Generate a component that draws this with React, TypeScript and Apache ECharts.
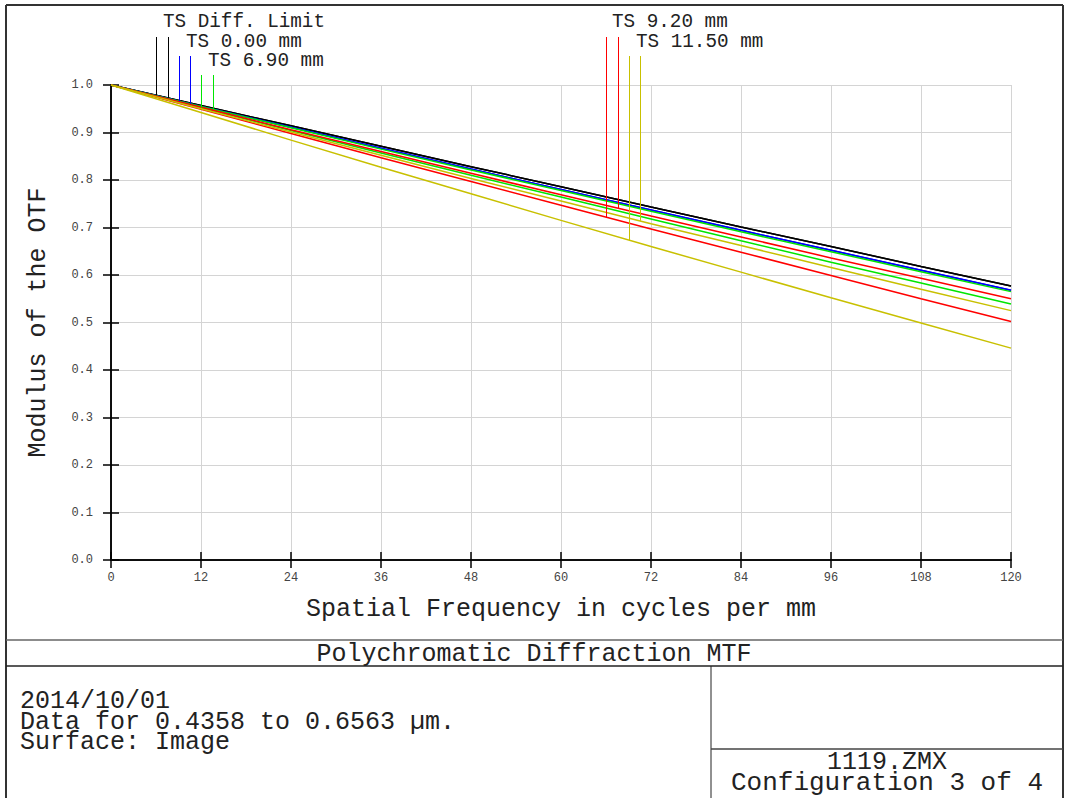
import React, { useEffect, useRef } from "react";
import * as echarts from "echarts";

// Spatial frequency samples (cycles per mm)
const freq = [0, 12, 24, 36, 48, 60, 72, 84, 96, 108, 120];
const xTicks = [0, 12, 24, 36, 48, 60, 72, 84, 96, 108, 120];
const yTicks = [0, 0.1, 0.2, 0.3, 0.4, 0.5, 0.6, 0.7, 0.8, 0.9, 1.0];

// MTF values
const diffLimitT = [1.0, 0.957, 0.914, 0.871, 0.828, 0.786, 0.743, 0.701, 0.66, 0.618, 0.577];
const diffLimitS = [1.0, 0.957, 0.914, 0.871, 0.828, 0.786, 0.743, 0.701, 0.66, 0.618, 0.577];
const field000T = [1.0, 0.955, 0.911, 0.867, 0.823, 0.78, 0.737, 0.694, 0.652, 0.61, 0.568];
const field000S = [1.0, 0.955, 0.911, 0.867, 0.823, 0.78, 0.737, 0.694, 0.652, 0.61, 0.568];
const field690T = [1.0, 0.952, 0.904, 0.857, 0.81, 0.764, 0.718, 0.672, 0.627, 0.583, 0.539];
const field690S = [1.0, 0.955, 0.91, 0.865, 0.821, 0.778, 0.734, 0.691, 0.649, 0.607, 0.565];
const field920T = [1.0, 0.949, 0.898, 0.847, 0.797, 0.747, 0.697, 0.648, 0.599, 0.55, 0.502];
const field920S = [1.0, 0.953, 0.906, 0.86, 0.814, 0.769, 0.724, 0.68, 0.636, 0.593, 0.55];
const field1150T = [1.0, 0.942, 0.884, 0.827, 0.771, 0.715, 0.66, 0.606, 0.552, 0.499, 0.446];
const field1150S = [1.0, 0.95, 0.901, 0.852, 0.803, 0.756, 0.708, 0.662, 0.616, 0.57, 0.525];

const legendLabels = ["TS Diff. Limit", "TS 0.00 mm", "TS 6.90 mm", "TS 9.20 mm", "TS 11.50 mm"];
// frequencies where the legend marker lines meet the curves
const markerFreqs = [6.0, 7.6, 9.1, 10.5, 12.0, 13.6, 66.0, 67.6, 69.1, 70.5];

const infoLines = ["2014/10/01", "Data for 0.4358 to 0.6563 µm.", "Surface: Image"];
const fileLines = ["1119.ZMX", "Configuration 3 of 4"];
const plotTitle = "Polychromatic Diffraction MTF";

const BLACK = "#000000";
const BLUE = "#0000ff";
const GREEN = "#00e600";
const RED = "#ff0000";
const YELLOW = "#c8c000";

const FONT = "'Liberation Mono', 'Courier New', 'DejaVu Sans Mono', monospace";
const TEXT = "#222";

const seriesDefs = [
  { name: "Diff. Limit T", data: diffLimitT, color: BLACK },
  { name: "Diff. Limit S", data: diffLimitS, color: BLACK },
  { name: "0.00 mm T", data: field000T, color: BLUE },
  { name: "0.00 mm S", data: field000S, color: BLUE },
  { name: "6.90 mm T", data: field690T, color: GREEN },
  { name: "6.90 mm S", data: field690S, color: GREEN },
  { name: "9.20 mm T", data: field920T, color: RED },
  { name: "9.20 mm S", data: field920S, color: RED },
  { name: "11.50 mm T", data: field1150T, color: YELLOW },
  { name: "11.50 mm S", data: field1150S, color: YELLOW },
];

// legend label rows (layout)
const labelLayout = [
  { x: 163, y: 22, top: 37 },
  { x: 186, y: 42, top: 56 },
  { x: 208, y: 61, top: 75 },
  { x: 612, y: 22, top: 37 },
  { x: 636, y: 42, top: 56 },
];

function interp(arr: number[], f: number) {
  let i = 0;
  while (i < freq.length - 2 && f > freq[i + 1]) i++;
  const t = (f - freq[i]) / (freq[i + 1] - freq[i]);
  return arr[i] + (arr[i + 1] - arr[i]) * t;
}

export default function App() {
  const ref = useRef<HTMLDivElement>(null);
  useEffect(() => {
    if (!ref.current) return;
    const chart = echarts.init(ref.current, null, { renderer: "svg" });
    const axisLineStyle = { color: "#000", width: 1.5 };
    const tickStyle = { show: true, inside: true, length: 8, lineStyle: { color: "#000", width: 1.5 } };
    const option: any = {
      animation: false,
      backgroundColor: "#ffffff",
      grid: { left: 111, top: 85, right: 54, bottom: 238, containLabel: false },
      xAxis: [
        {
          type: "value",
          min: 0,
          max: 120,
          interval: 12,
          position: "bottom",
          axisLine: { show: true, lineStyle: axisLineStyle },
          axisTick: tickStyle,
          splitLine: { show: true, lineStyle: { color: "#d4d4d4", width: 1 } },
          axisLabel: {
            show: true,
            margin: 12,
            fontFamily: FONT,
            fontSize: 12,
            color: "#444",
            formatter: (v: number) => (xTicks.includes(v) ? String(v) : ""),
          },
          name: "Spatial Frequency in cycles per mm",
          nameLocation: "middle",
          nameGap: 37,
          nameTextStyle: { fontFamily: FONT, fontSize: 25, color: TEXT },
        },
        {
          type: "value",
          min: 0,
          max: 120,
          interval: 12,
          position: "top",
          axisLine: { show: true, lineStyle: axisLineStyle },
          axisTick: tickStyle,
          splitLine: { show: false },
          axisLabel: { show: false },
        },
      ],
      yAxis: [
        {
          type: "value",
          min: 0,
          max: 1,
          interval: 0.1,
          position: "left",
          axisLine: { show: true, lineStyle: axisLineStyle },
          axisTick: tickStyle,
          splitLine: { show: true, lineStyle: { color: "#d4d4d4", width: 1 } },
          axisLabel: {
            show: true,
            margin: 18,
            fontFamily: FONT,
            fontSize: 12,
            color: "#444",
            formatter: (v: number) => {
              const hit = yTicks.find((t) => Math.abs(t - v) < 1e-6);
              return hit !== undefined ? hit.toFixed(1) : "";
            },
          },
          name: "Modulus of the OTF",
          nameLocation: "middle",
          nameGap: 60,
          nameTextStyle: { fontFamily: FONT, fontSize: 25, color: TEXT },
        },
        {
          type: "value",
          min: 0,
          max: 1,
          interval: 0.1,
          position: "right",
          axisLine: { show: true, lineStyle: axisLineStyle },
          axisTick: tickStyle,
          splitLine: { show: false },
          axisLabel: { show: false },
        },
      ],
      series: seriesDefs.map((s) => ({
        type: "line",
        name: s.name,
        xAxisIndex: 0,
        yAxisIndex: 0,
        showSymbol: false,
        symbol: "none",
        smooth: false,
        lineStyle: { color: s.color, width: 1.5 },
        itemStyle: { color: s.color },
        data: freq.map((f, i) => [f, s.data[i]]),
      })),
    };
    chart.setOption(option);

    const frameStroke = "#333";
    const elements: any[] = [
      // outer frame
      { type: "line", shape: { x1: 6, y1: 5, x2: 1063, y2: 5 }, style: { stroke: frameStroke, lineWidth: 2 } },
      { type: "line", shape: { x1: 6, y1: 5, x2: 6, y2: 798 }, style: { stroke: frameStroke, lineWidth: 2 } },
      { type: "line", shape: { x1: 1063, y1: 5, x2: 1063, y2: 798 }, style: { stroke: frameStroke, lineWidth: 2 } },
      { type: "line", shape: { x1: 6, y1: 640, x2: 1063, y2: 640 }, style: { stroke: "#666", lineWidth: 1.5 } },
      { type: "line", shape: { x1: 6, y1: 666, x2: 1063, y2: 666 }, style: { stroke: "#222", lineWidth: 1.5 } },
      { type: "line", shape: { x1: 711, y1: 666, x2: 711, y2: 798 }, style: { stroke: "#222", lineWidth: 1 } },
      { type: "line", shape: { x1: 711, y1: 749, x2: 1063, y2: 749 }, style: { stroke: "#444", lineWidth: 1.5 } },
      // title block texts
      {
        type: "text",
        x: 534,
        y: 654,
        style: { text: plotTitle, font: `25px ${FONT}`, fill: TEXT, align: "center", verticalAlign: "middle" },
      },
      {
        type: "text",
        x: 20,
        y: 722,
        style: {
          text: infoLines.join("\n"),
          font: `25px ${FONT}`,
          lineHeight: 20.5,
          fill: TEXT,
          align: "left",
          verticalAlign: "middle",
        },
      },
      {
        type: "text",
        x: 887,
        y: 772.5,
        style: {
          text: `{a|${fileLines[0]}}\n{b|${fileLines[1]}}`,
          fill: TEXT,
          align: "center",
          verticalAlign: "middle",
          rich: {
            a: { fontFamily: FONT, fontSize: 25, lineHeight: 21, fill: TEXT, align: "center" },
            b: { fontFamily: FONT, fontSize: 26, lineHeight: 21, fill: TEXT, align: "center" },
          },
        },
      },
    ];

    // legend labels
    legendLabels.forEach((lab, i) => {
      const L = labelLayout[i];
      elements.push({
        type: "text",
        x: L.x,
        y: L.y,
        style: { text: lab, font: `19.3px ${FONT}`, fill: TEXT, align: "left", verticalAlign: "middle" },
      });
    });

    // legend marker lines, from the label row down to the curve
    seriesDefs.forEach((s, i) => {
      const f = markerFreqs[i];
      const v = interp(s.data, f);
      const p = chart.convertToPixel({ seriesIndex: 0 }, [f, v]) as number[];
      const top = labelLayout[Math.floor(i / 2)].top;
      const px = Math.round(p[0]) + 0.5;
      elements.push({
        type: "line",
        shape: { x1: px, y1: top, x2: px, y2: p[1] },
        style: { stroke: s.color, lineWidth: 1 },
        z: 10,
      });
    });

    chart.setOption({ graphic: { elements } });

    return () => chart.dispose();
  }, []);

  return (
    <div
      ref={ref}
      style={{ position: "fixed", left: 0, top: 0, width: 1065, height: 798, background: "#fff" }}
    />
  );
}
